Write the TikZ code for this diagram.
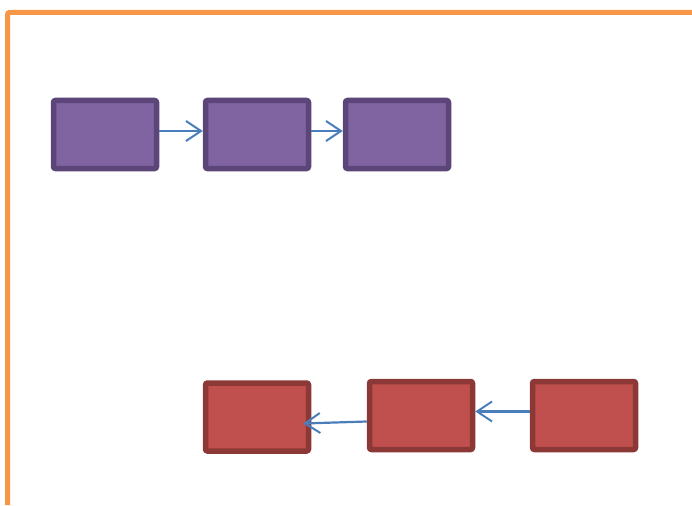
\documentclass[tikz,border=0pt]{standalone}
\usetikzlibrary{arrows.meta}
\definecolor{frameorange}{HTML}{F79646}
\definecolor{purplefill}{HTML}{8064A2}
\definecolor{purpleline}{HTML}{5C4578}
\definecolor{redfill}{HTML}{C0504D}
\definecolor{redline}{HTML}{8C3836}
\definecolor{arrowblue}{HTML}{4A7EBB}

\begin{document}
\begin{tikzpicture}[x=1pt, y=-1pt]
		\useasboundingbox (0,0) rectangle (692,505);
		\begin{scope}
		\tikzstyle{every node}=[minimum width=103pt, minimum height=68pt, line width=5.5pt, rounded corners=2pt, inner sep=0pt]
		\tikzstyle{pbox}=[draw=purpleline, fill=purplefill]
		\tikzstyle{rbox}=[draw=redline, fill=redfill]
		\tikzstyle{link}=[draw=arrowblue, line width=2.2pt, -{Straight Barb[length=15pt, width=20pt, line width=2pt]}]
				% frame
				\draw[frameorange, line width=5pt, rounded corners=2pt] (7.5,505) -- (7.5,12.5) -- (692,12.5);
			
				\node[pbox] (P1) at (105, 134.5) {};
				\node[pbox] (P2) at (257, 134.5) {};
				\node[pbox] (P3) at (397, 134.5) {};
			
				\node[rbox] (R1) at (257, 417) {};
				\node[rbox] (R2) at (421, 415.5) {};
				\node[rbox] (R3) at (584, 415.5) {};
			
				\draw[link] ([yshift=3.5pt]P1.east) -- ([yshift=3.5pt]P2.west);
				\draw[link] ([yshift=3.5pt]P2.east) -- ([yshift=3.5pt]P3.west);
				\draw[link] ([yshift=4pt]R3.west) -- ([yshift=4pt]R2.east);
				\draw[link] ([yshift=-6pt]R2.west) -- ([xshift=-8pt, yshift=-6.5pt]R1.east);
		\end{scope}
	\end{tikzpicture}
\end{document}
